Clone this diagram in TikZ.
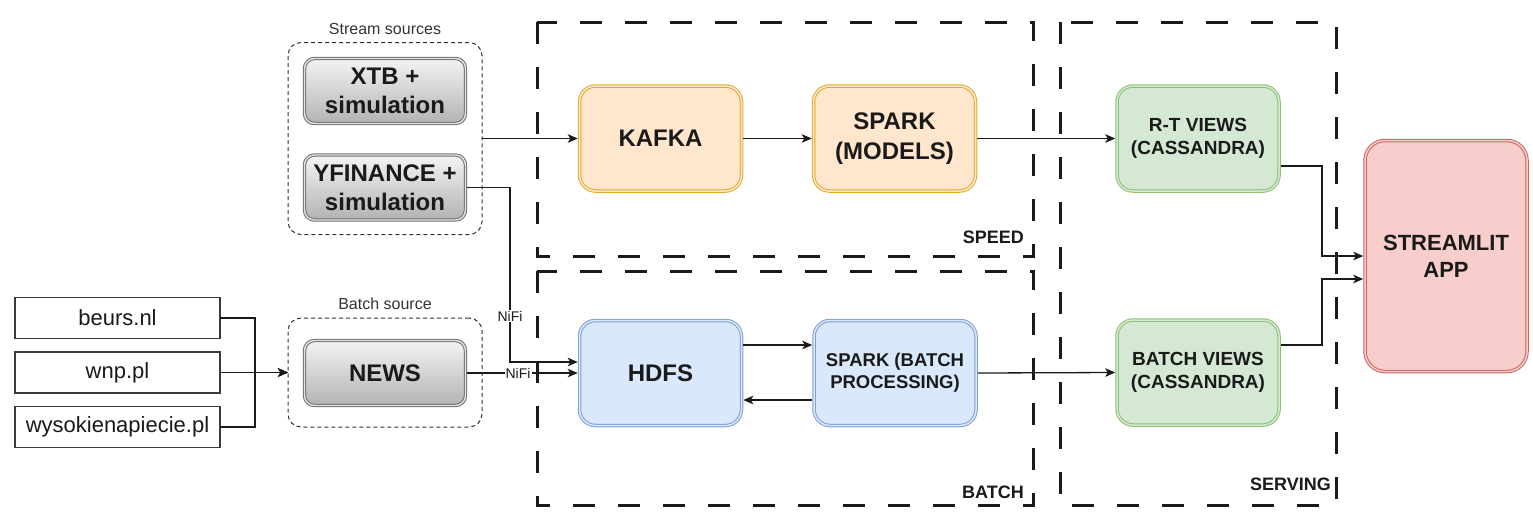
\documentclass[tikz,border=0pt]{standalone}
\usepackage{fontspec}
\setmainfont{Liberation Sans}
\usetikzlibrary{arrows.meta}
\definecolor{ink}{HTML}{1A1A1A}
\definecolor{srcline}{HTML}{3A3A3A}
\definecolor{grpline}{HTML}{333333}
\definecolor{grayS}{HTML}{707070}
\definecolor{grayGap}{HTML}{E2E2E2}
\definecolor{grayTop}{HTML}{F4F4F4}
\definecolor{grayBot}{HTML}{B2B2B2}
\definecolor{orF}{HTML}{FFE6CC}
\definecolor{orS}{HTML}{E2AA2C}
\definecolor{blF}{HTML}{DAE8FC}
\definecolor{blS}{HTML}{7E9FD0}
\definecolor{grF}{HTML}{D5E8D4}
\definecolor{grS}{HTML}{8CC070}
\definecolor{rdF}{HTML}{F8CECC}
\definecolor{rdS}{HTML}{C96461}
\tikzset{
  srcbox/.style={draw=srcline, line width=1.5pt, minimum width=205pt, minimum height=41pt,
    inner sep=0pt, outer sep=0pt, font=\fontsize{22}{26}\selectfont, text=ink},
  grpbox/.style={draw=grpline, line width=1pt, dash pattern=on 4pt off 3pt, rounded corners=13pt,
    inner sep=0pt, outer sep=0pt},
  grplabel/.style={font=\fontsize{16}{19}\selectfont, text=grpline, inner sep=0pt},
  graybox/.style={rounded corners=10pt, draw=grayS, double=grayGap, double distance=1.4pt,
    line width=1pt, top color=grayTop, bottom color=grayBot, minimum width=161pt,
    minimum height=65pt, inner sep=0pt, outer sep=1.7pt, align=center, text=ink,
    font=\fontsize{24}{29}\selectfont\bfseries},
  procbox/.style={rounded corners=16pt, line width=1pt, double distance=1.5pt,
    minimum width=162pt, minimum height=105pt, inner sep=0pt, outer sep=1.75pt,
    align=center, text=ink},
  orbox/.style={procbox, draw=orS, double=orF, fill=orF, font=\fontsize{24}{30}\selectfont\bfseries},
  blbox/.style={procbox, draw=blS, double=blF, fill=blF},
  grbox/.style={procbox, draw=grS, double=grF, fill=grF, font=\fontsize{19}{23}\selectfont\bfseries},
  rdbox/.style={procbox, rounded corners=20pt, draw=rdS, double=rdF, fill=rdF,
    font=\fontsize{22}{27}\selectfont\bfseries},
  layer/.style={draw=ink, line width=3pt, dash pattern=on 22pt off 23pt},
  layerlabel/.style={font=\fontsize{18}{21}\selectfont\bfseries, text=ink, inner sep=0pt, anchor=east},
  arr/.style={draw=ink, line width=1.3pt, -{Stealth[length=10pt,width=8.5pt,inset=2.5pt]}},
  nifi/.style={fill=white, inner sep=1pt, font=\fontsize{14}{16}\selectfont, text=ink}
}
\begin{document}
\begin{tikzpicture}[x=1pt,y=-1pt]
\useasboundingbox[fill=white] (0,0) rectangle (1533,531);

% layer frames
\draw[layer] (537,22) rectangle (1033,256);
\draw[layer] (537,271) rectangle (1033,505);
\draw[layer] (1060,22) rectangle (1336,505);
\node[layerlabel] (lspeed) at (1024,237) {SPEED};
\node[layerlabel] (lbatch) at (1024,492) {BATCH};
\node[layerlabel] (lserv) at (1331,484) {SERVING};

% sources
\node[srcbox] (src1) at (117.5,318) {beurs.nl};
\node[srcbox] (src2) at (117.5,372.5) {wnp.pl};
\node[srcbox] (src3) at (117.5,427) {wysokienapiecie.pl};

% groups
\node[grpbox, minimum width=194pt, minimum height=192pt] (sgrp) at (385,138.5) {};
\node[grplabel] (sgrplab) at (385,29) {Stream sources};
\node[grpbox, minimum width=194pt, minimum height=109pt] (bgrp) at (385,372.5) {};
\node[grplabel] (bgrplab) at (385,304) {Batch source};

\node[graybox] (xtb) at (385,91) {XTB +\\simulation};
\node[graybox] (yfin) at (385,187.5) {YFINANCE +\\simulation};
\node[graybox] (news) at (385,373) {NEWS};

% processing
\node[orbox] (kafka) at (660.5,138.5) {KAFKA};
\node[orbox] (sparkm) at (894.5,138.5) {SPARK\\(MODELS)};
\node[blbox, font=\fontsize{24}{29}\selectfont\bfseries] (hdfs) at (660.5,373) {HDFS};
\node[blbox, font=\fontsize{18.5}{22}\selectfont\bfseries] (sparkb) at (895,373) {SPARK (BATCH\\PROCESSING)};
\node[grbox] (rt) at (1198,138.5) {R-T VIEWS\\(CASSANDRA)};
\node[grbox] (bv) at (1198,372.5) {BATCH VIEWS\\(CASSANDRA)};
\node[rdbox, minimum height=231pt] (app) at (1446,256) {STREAMLIT\\APP};

% helper coordinates
\coordinate (jx) at (255,0);
\coordinate (yb) at (510,187.5);
\coordinate (yc) at (510,362);
\coordinate (h1) at (0,345);
\coordinate (h2) at (0,400);
\coordinate (r1) at (1322,166);
\coordinate (r1b) at (1322,256);
\coordinate (r2) at (1322,345);
\coordinate (r2b) at (1322,279);

% connectors
\draw[arr] (src1.east) -- (src1.east -| jx) |- (bgrp.west);
\draw[arr] (src3.east) -- (src3.east -| jx) |- (bgrp.west);
\draw[arr] (src2.east) -- (bgrp.west);
\draw[arr] (sgrp.east) -- (kafka.west);
\draw[arr] (kafka.east) -- (sparkm.west);
\draw[arr] (sparkm.east) -- (rt.west);
\draw[arr] (yfin.east) -- (yb) -- node[nifi, pos=0.736] {NiFi} (yc) -- (hdfs.west |- yc);
\draw[arr] (news.east) -- node[nifi, pos=0.46] {NiFi} (hdfs.west);
\draw[arr] (hdfs.east |- h1) -- (sparkb.west |- h1);
\draw[arr] (sparkb.west |- h2) -- (hdfs.east |- h2);
\draw[arr] (sparkb.east) -- (bv.west);
\draw[arr] (rt.east |- r1) -- (r1) -- (r1b) -- (app.west |- r1b);
\draw[arr] (bv.east |- r2) -- (r2) -- (r2b) -- (app.west |- r2b);
\end{tikzpicture}
\end{document}
